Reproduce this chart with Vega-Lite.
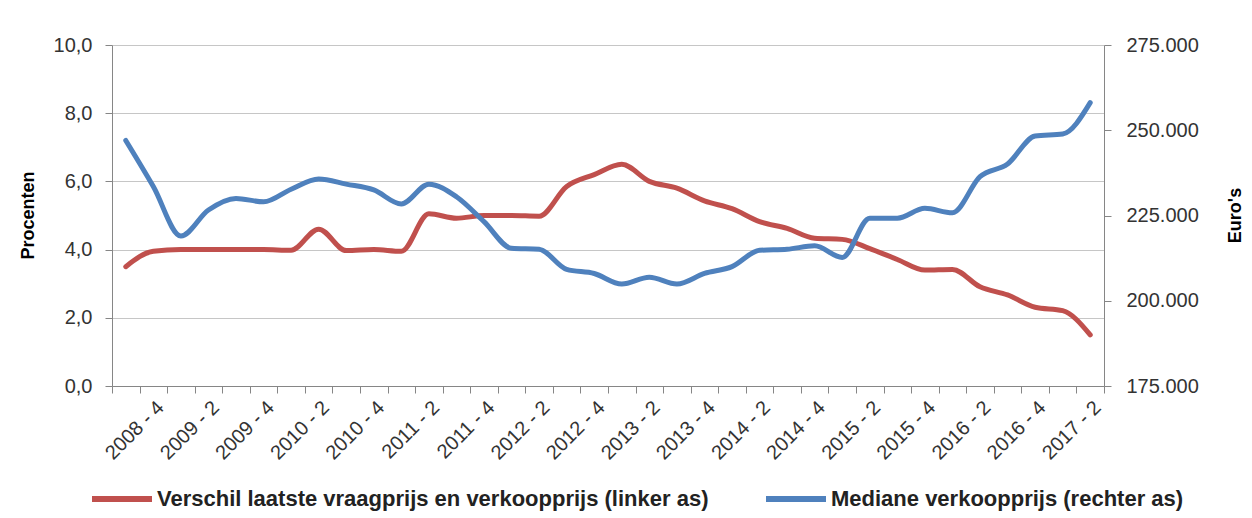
{
  "$schema": "https://vega.github.io/schema/vega-lite/v6.json",
  "width": 992,
  "height": 341,
  "autosize": "none",
  "padding": {"left": 112, "top": 45, "right": 148, "bottom": 132},
  "background": "white",
  "data": {
    "values": [
      {"kwartaal": "2008 - 3", "verschil": 3.5, "mediaan": 247000},
      {"kwartaal": "2008 - 4", "verschil": 3.95, "mediaan": 233500},
      {"kwartaal": "2009 - 1", "verschil": 4.0, "mediaan": 219000},
      {"kwartaal": "2009 - 2", "verschil": 4.0, "mediaan": 226600},
      {"kwartaal": "2009 - 3", "verschil": 4.0, "mediaan": 230000},
      {"kwartaal": "2009 - 4", "verschil": 4.0, "mediaan": 229000},
      {"kwartaal": "2010 - 1", "verschil": 3.98, "mediaan": 232700},
      {"kwartaal": "2010 - 2", "verschil": 4.6, "mediaan": 235700},
      {"kwartaal": "2010 - 3", "verschil": 3.97, "mediaan": 234200},
      {"kwartaal": "2010 - 4", "verschil": 4.0, "mediaan": 232500},
      {"kwartaal": "2011 - 1", "verschil": 3.95, "mediaan": 228400},
      {"kwartaal": "2011 - 2", "verschil": 5.05, "mediaan": 234200},
      {"kwartaal": "2011 - 3", "verschil": 4.92, "mediaan": 230500},
      {"kwartaal": "2011 - 4", "verschil": 5.0, "mediaan": 223200},
      {"kwartaal": "2012 - 1", "verschil": 5.0, "mediaan": 215400},
      {"kwartaal": "2012 - 2", "verschil": 4.98, "mediaan": 215100},
      {"kwartaal": "2012 - 3", "verschil": 5.85, "mediaan": 209200},
      {"kwartaal": "2012 - 4", "verschil": 6.2, "mediaan": 208000},
      {"kwartaal": "2013 - 1", "verschil": 6.5, "mediaan": 204900},
      {"kwartaal": "2013 - 2", "verschil": 6.0, "mediaan": 206900},
      {"kwartaal": "2013 - 3", "verschil": 5.8, "mediaan": 204900},
      {"kwartaal": "2013 - 4", "verschil": 5.43, "mediaan": 208000},
      {"kwartaal": "2014 - 1", "verschil": 5.2, "mediaan": 210000},
      {"kwartaal": "2014 - 2", "verschil": 4.82, "mediaan": 214800},
      {"kwartaal": "2014 - 3", "verschil": 4.62, "mediaan": 215100},
      {"kwartaal": "2014 - 4", "verschil": 4.33, "mediaan": 216100},
      {"kwartaal": "2015 - 1", "verschil": 4.3, "mediaan": 212700},
      {"kwartaal": "2015 - 2", "verschil": 4.03, "mediaan": 224200},
      {"kwartaal": "2015 - 3", "verschil": 3.71, "mediaan": 224200},
      {"kwartaal": "2015 - 4", "verschil": 3.4, "mediaan": 227100},
      {"kwartaal": "2016 - 1", "verschil": 3.42, "mediaan": 225800},
      {"kwartaal": "2016 - 2", "verschil": 2.91, "mediaan": 236400},
      {"kwartaal": "2016 - 3", "verschil": 2.67, "mediaan": 240100},
      {"kwartaal": "2016 - 4", "verschil": 2.31, "mediaan": 248300},
      {"kwartaal": "2017 - 1", "verschil": 2.21, "mediaan": 248900},
      {"kwartaal": "2017 - 2", "verschil": 1.5, "mediaan": 258100}
    ]
  },
  "encoding": {
    "x": {
      "field": "kwartaal",
      "type": "ordinal",
      "sort": null,
      "bandPosition": 0.5,
      "scale": {"type": "band", "paddingInner": 0, "paddingOuter": 0},
      "axis": {
        "title": null,
        "labelAngle": -45,
        "labelAlign": "right",
        "labelBaseline": "top",
        "labelFontSize": 20,
        "labelColor": "#333333",
        "labelPadding": 4,
        "labelOverlap": false,
        "labelExpr": "test(/ - [24]$/, datum.label) ? datum.label : ''",
        "tickBand": "extent",
        "tickSize": 7,
        "tickColor": "#868686",
        "domainColor": "#868686",
        "grid": false
      }
    }
  },
  "layer": [
    {
      "mark": {"type": "line", "interpolate": "monotone", "strokeWidth": 5, "strokeCap": "round"},
      "encoding": {
        "y": {
          "field": "verschil",
          "type": "quantitative",
          "scale": {"domain": [0, 10], "nice": false},
          "axis": {
            "orient": "left",
            "title": "Procenten",
            "values": [0, 2, 4, 6, 8, 10],
            "labelExpr": "replace(format(datum.value, '.1f'), '.', ',')",
            "labelFontSize": 20,
            "labelColor": "#333333",
            "labelPadding": 13,
            "tickSize": 7,
            "tickColor": "#868686",
            "domainColor": "#868686",
            "grid": true,
            "gridColor": "#c6c6c6",
            "titleFontSize": 18,
            "titleFontWeight": "bold",
            "titleColor": "#000000",
            "titleAngle": -90,
            "titleAlign": "center",
            "titleBaseline": "middle",
            "titleX": -84,
            "titleY": 170
          }
        },
        "color": {
          "datum": "Verschil laatste vraagprijs en verkoopprijs (linker as)",
          "type": "nominal",
          "scale": {
            "domain": ["Verschil laatste vraagprijs en verkoopprijs (linker as)", "Mediane verkoopprijs (rechter as)"],
            "range": ["#C0504D", "#4F81BD"]
          },
          "legend": {
            "title": null,
            "orient": "none",
            "legendX": -23,
            "legendY": 421,
            "direction": "horizontal",
            "symbolType": "stroke",
            "symbolSize": 3600,
            "symbolStrokeWidth": 6,
            "labelFontSize": 22,
            "labelFontWeight": "bold",
            "labelColor": "#222222",
            "labelOffset": 2,
            "labelLimit": 0,
            "columnPadding": 45
          }
        }
      }
    },
    {
      "mark": {"type": "line", "interpolate": "monotone", "strokeWidth": 5, "strokeCap": "round"},
      "encoding": {
        "y": {
          "field": "mediaan",
          "type": "quantitative",
          "scale": {"domain": [175000, 275000], "nice": false, "zero": false},
          "axis": {
            "orient": "right",
            "title": "Euro's",
            "values": [175000, 200000, 225000, 250000, 275000],
            "labelExpr": "replace(format(datum.value, ',.0f'), ',', '.')",
            "labelFontSize": 20,
            "labelColor": "#333333",
            "labelPadding": 15,
            "tickSize": 7,
            "tickColor": "#868686",
            "domainColor": "#868686",
            "grid": false,
            "titleFontSize": 18,
            "titleFontWeight": "bold",
            "titleColor": "#000000",
            "titleAngle": -90,
            "titleAlign": "center",
            "titleBaseline": "middle",
            "titleX": 131,
            "titleY": 170
          }
        },
        "color": {"datum": "Mediane verkoopprijs (rechter as)", "type": "nominal"}
      }
    }
  ],
  "resolve": {"scale": {"y": "independent"}},
  "config": {
    "view": {"stroke": null},
    "font": "Liberation Sans"
  }
}
